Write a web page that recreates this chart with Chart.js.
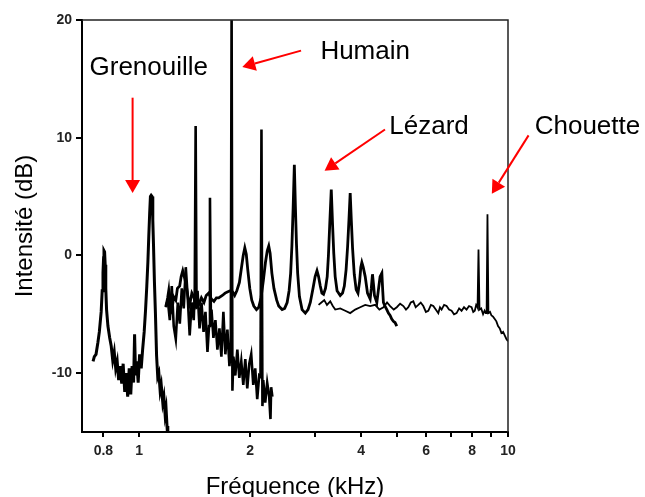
<!DOCTYPE html>
<html>
<head>
<meta charset="utf-8">
<script src="https://cdn.jsdelivr.net/npm/chart.js@4"></script>
<style>
    body { margin: 0; background: #fff; }
    #wrap { width: 645px; height: 497px; }
</style>
</head>
<body>
<div id="wrap"><canvas id="soaeChart" width="645" height="497"></canvas></div>
<script>
// Frequency in kHz, level in dB
const frogFreq = [0.750, 0.756, 0.764, 0.773, 0.780, 0.789, 0.794, 0.798, 0.801, 0.803, 0.806, 0.809, 0.812, 0.816, 0.823, 0.832,
    0.840, 0.848, 0.856, 0.864, 0.872, 0.880, 0.888, 0.897, 0.905, 0.914, 0.922, 0.931, 0.940, 0.949, 0.957, 0.966, 0.972, 0.978, 0.985, 0.994, 1.003, 1.013, 1.022, 1.032,
    1.041, 1.049, 1.056, 1.062, 1.068, 1.073, 1.078, 1.084, 1.089, 1.094, 1.100, 1.107,
    1.115, 1.123, 1.131, 1.140, 1.148, 1.159, 1.167, 1.176, 1.183, 1.190, 1.196];
const frogDb = [-9.0, -8.6, -8.4, -7.4, -6.5, -4.8, -3.0, -1.5, -0.2, 0.4, 0.3, -0.8, -2.8, -4.6, -6.0, -7.0,
    -7.7, -8.9, -8.2, -9.6, -9.0, -10.6, -9.4, -10.9, -9.2, -11.6, -10.0, -12.0, -9.6, -11.8, -9.4, -10.8, -6.7, -10.2, -9.0, -10.8, -8.4, -9.6, -8.0, -6.5,
    -4.6, -2.6, -0.6, 1.6, 3.6, 5.0, 5.1, 5.0, 3.0, 0.8, -2.2, -4.9,
    -8.5, -10.3, -10.0, -11.5, -11.0, -12.5, -12.0, -13.5, -13.0, -14.5, -15.5];

const humanFreq = [1.181, 1.196, 1.211, 1.226, 1.241, 1.257, 1.273, 1.289, 1.305, 1.321, 1.338, 1.354, 1.371, 1.388, 1.406,
    1.415, 1.423, 1.431, 1.440, 1.458, 1.476, 1.495, 1.513, 1.532,
    1.547, 1.556, 1.565, 1.571, 1.590, 1.610, 1.630, 1.651, 1.671, 1.692, 1.713, 1.735, 1.757,
    1.772, 1.781, 1.790, 1.801, 1.823, 1.846, 1.869, 1.892, 1.916, 1.940, 1.964, 1.989, 2.013, 2.039, 2.064, 2.090, 2.116,
    2.133, 2.146, 2.159, 2.170, 2.197, 2.224, 2.252, 2.270, 2.280, 2.297];
const humanDb = [-4.3, -3.8, -5.5, -2.6, -6.0, -7.1, -4.0, -5.8, -2.8, -4.5, -1.0, -3.5, -6.8, -4.0, -5.5,
    -3.0, 11.0, -4.5, -3.0, -6.2, -4.0, -6.5, -4.8, -8.2,
    -6.0, 4.9, -5.5, -4.6, -7.0, -5.5, -8.0, -6.2, -8.6, -4.8, -8.4, -6.3, -9.4,
    -8.0, 21.0, -11.5, -8.6, -10.2, -8.0, -10.4, -9.0, -11.0, -8.8, -11.3, -9.2, -8.4, -11.0, -9.6, -12.2, -10.2,
    -10.3, 10.7, -12.8, -10.6, -12.5, -10.8, -12.0, -13.9, -11.2, -12.0];

const lizardFreq = [1.181, 1.195, 1.203, 1.215, 1.226, 1.240, 1.257, 1.270, 1.288, 1.300, 1.313, 1.330, 1.346, 1.360, 1.371, 1.390, 1.406, 1.430, 1.450, 1.475, 1.499, 1.520, 1.543, 1.570, 1.595, 1.620, 1.643, 1.681, 1.710, 1.734, 1.765, 1.792, 1.815,
    1.840, 1.870, 1.895, 1.915, 1.934, 1.952, 1.970, 1.995, 2.020, 2.046, 2.080, 2.110, 2.140, 2.170, 2.200, 2.225, 2.246, 2.265, 2.290, 2.320, 2.360, 2.390, 2.441, 2.480, 2.519,
    2.550, 2.575, 2.595, 2.615, 2.635, 2.652, 2.670, 2.690, 2.720, 2.765, 2.822, 2.870, 2.911, 2.960, 3.000, 3.035, 3.065, 3.098, 3.130, 3.162,
    3.200, 3.235, 3.260, 3.285, 3.318, 3.345, 3.370, 3.400, 3.440, 3.509, 3.560, 3.600, 3.640, 3.675, 3.705, 3.734, 3.760, 3.790, 3.830, 3.876,
    3.920, 3.960, 3.990, 4.016, 4.050, 4.101, 4.160, 4.230, 4.260, 4.291, 4.320, 4.345, 4.410, 4.454, 4.500, 4.550, 4.575, 4.595, 4.640, 4.693, 4.740, 4.791, 4.840, 4.890, 4.940, 4.995];
const lizardDb = [-4.4, -3.6, -3.0, -4.6, -4.8, -3.5, -3.8, -2.8, -2.6, -1.8, -1.3, -2.0, -2.8, -3.8, -4.2, -3.2, -3.5, -4.4, -4.2, -3.6, -4.0, -3.4, -3.2, -3.7, -3.9, -3.6, -3.6, -3.4, -3.2, -3.1, -3.0, -3.1, -3.4,
    -3.0, -2.3, -1.0, 0.0, 0.65, 0.1, -1.2, -2.8, -3.8, -4.3, -4.6, -4.4, -3.6, -2.2, -0.6, 0.4, 0.8, 0.2, -1.5, -2.8, -3.8, -4.3, -4.6, -4.5, -4.0,
    -3.0, -1.5, 0.8, 4.0, 7.7, 4.2, 1.0, -1.5, -3.5, -4.6, -4.9, -4.6, -4.0, -2.8, -1.8, -1.3, -1.8, -2.6, -3.2, -3.3,
    -2.8, -1.8, 0.0, 2.5, 5.6, 2.6, 0.2, -1.8, -3.0, -3.4, -3.2, -2.6, -1.2, 0.8, 3.0, 5.3, 3.0, 0.6, -1.6, -2.9,
    -3.2, -2.2, -1.0, -0.6, -1.0, -1.8, -3.2, -3.7, -2.8, -1.6, -2.5, -3.4, -4.0, -2.9, -1.8, -1.5, -3.0, -4.0, -4.3, -4.6, -4.9, -5.1, -5.4, -5.6, -5.7, -6.0];

const owlFreq = [3.065, 3.120, 3.176, 3.230, 3.297, 3.350, 3.401, 3.509, 3.620, 3.734, 3.852, 3.974, 4.101, 4.230, 4.364, 4.480, 4.595, 4.700, 4.791, 4.900, 4.995, 5.100, 5.204, 5.290, 5.368, 5.450, 5.538, 5.620, 5.713, 5.800, 5.894, 5.990, 6.081, 6.180, 6.273, 6.370, 6.472, 6.540, 6.607, 6.710, 6.816, 6.920, 7.032, 7.140, 7.255, 7.370, 7.484, 7.600, 7.721, 7.840, 7.965, 8.050, 8.128, 8.200, 8.246, 8.270, 8.318, 8.370, 8.460, 8.559, 8.640, 8.704, 8.750, 8.797, 8.850, 8.940, 9.019, 9.110, 9.206, 9.300, 9.397, 9.500, 9.598, 9.700, 9.797, 9.900, 10.0];
const owlDb = [-4.2, -4.0, -3.8, -4.2, -3.9, -4.3, -4.6, -4.5, -4.7, -4.9, -4.6, -4.4, -4.2, -4.3, -4.2, -4.6, -4.4, -4.0, -4.3, -4.6, -4.4, -4.1, -4.3, -4.6, -4.4, -4.0, -3.9, -4.4, -4.2, -4.0, -4.3, -4.8, -4.7, -4.2, -4.3, -4.6, -4.9, -4.4, -4.6, -4.2, -4.3, -4.6, -4.7, -5.0, -4.9, -4.5, -4.7, -4.4, -4.6, -4.3, -4.4, -4.8, -4.7, -4.2, -4.3, -4.4, 0.5, -4.6, -4.5, -5.0, -4.7, -4.9, -4.9, 3.5, -4.9, -4.8, -5.1, -5.2, -5.4, -5.6, -6.0, -6.2, -6.6, -6.5, -6.8, -7.1, -7.3];

const xTicks = [0.8, 1, 2, 3, 4, 5, 6, 7, 8, 9, 10];
const xLabelled = [0.8, 1, 2, 4, 6, 8, 10];
const yTicks = [-10, 0, 10, 20];

// Species labels and their red arrows (data coordinates)
const labels = [
    { text: 'Grenouille', x: 1.062, y: 15.9, from: [0.960, 13.4], to: [0.960, 5.3] },
    { text: 'Humain',     x: 4.10,  y: 17.3, from: [2.748, 17.4], to: [1.904, 16.0] },
    { text: 'Lézard',     x: 6.107, y: 10.9, from: [4.64, 10.7],  to: [3.182, 7.2] },
    { text: 'Chouette',   x: 16.42, y: 10.9, from: [11.37, 10.2], to: [9.04, 5.25] }
];

function toPoints(xs, ys) {
    return xs.map((x, i) => ({ x: x, y: ys[i] }));
}

function series(xs, ys, width) {
    return {
        data: toPoints(xs, ys),
        showLine: true,
        borderColor: '#000',
        borderWidth: width,
        pointRadius: 0,
        tension: 0
    };
}

// Frame on top and right + annotations
const decorPlugin = {
    id: 'decor',
    afterDatasetsDraw(chart) {
        const { ctx, chartArea: a, scales } = chart;
        ctx.save();
        ctx.strokeStyle = '#222';
        ctx.lineWidth = 1.5;
        ctx.beginPath();
        ctx.moveTo(a.left, a.top);
        ctx.lineTo(a.right, a.top);
        ctx.lineTo(a.right, a.bottom);
        ctx.stroke();

        ctx.font = '26px "Liberation Sans", Arial, sans-serif';
        ctx.textAlign = 'center';
        ctx.textBaseline = 'middle';
        labels.forEach(l => {
            ctx.fillStyle = '#000';
            ctx.fillText(l.text, scales.x.getPixelForValue(l.x), scales.y.getPixelForValue(l.y));
            const x1 = scales.x.getPixelForValue(l.from[0]);
            const y1 = scales.y.getPixelForValue(l.from[1]);
            const x2 = scales.x.getPixelForValue(l.to[0]);
            const y2 = scales.y.getPixelForValue(l.to[1]);
            drawArrow(ctx, x1, y1, x2, y2);
        });
        ctx.restore();
    }
};

function drawArrow(ctx, x1, y1, x2, y2) {
    const ang = Math.atan2(y2 - y1, x2 - x1);
    const headLen = 13, headW = 7.5;
    const bx = x2 - headLen * Math.cos(ang);
    const by = y2 - headLen * Math.sin(ang);
    ctx.strokeStyle = '#f00';
    ctx.fillStyle = '#f00';
    ctx.lineWidth = 2;
    ctx.beginPath();
    ctx.moveTo(x1, y1);
    ctx.lineTo(bx, by);
    ctx.stroke();
    ctx.beginPath();
    ctx.moveTo(x2, y2);
    ctx.lineTo(bx + headW * Math.sin(ang), by - headW * Math.cos(ang));
    ctx.lineTo(bx - headW * Math.sin(ang), by + headW * Math.cos(ang));
    ctx.closePath();
    ctx.fill();
}

const tickFont = { family: '"Liberation Sans", Arial, sans-serif', size: 14, weight: 'bold' };
const titleFont = { family: '"Liberation Sans", Arial, sans-serif', size: 24 };

new Chart(document.getElementById('soaeChart'), {
    type: 'scatter',
    data: {
        datasets: [
            series(frogFreq, frogDb, 3),
            series(humanFreq, humanDb, 2.6),
            series(lizardFreq, lizardDb, 2.8),
            series(owlFreq, owlDb, 1.8)
        ]
    },
    options: {
        responsive: false,
        animation: false,
        layout: { padding: { top: 20, right: 137, left: 0, bottom: 0 } },
        plugins: { legend: { display: false }, tooltip: { enabled: false } },
        scales: {
            x: {
                type: 'logarithmic',
                min: 0.705,
                max: 10,
                afterBuildTicks: s => { s.ticks = xTicks.map(v => ({ value: v })); },
                afterFit: s => { s.height = 65; },
                ticks: {
                    autoSkip: false,
                    maxRotation: 0,
                    padding: 6,
                    color: '#222',
                    font: tickFont,
                    callback: v => xLabelled.includes(v) ? String(v) : ''
                },
                grid: { drawOnChartArea: false, drawTicks: true, tickLength: 5, color: '#000', lineWidth: 2 },
                border: { display: true, color: '#000', width: 2 },
                title: { display: true, text: 'Fréquence (kHz)', color: '#000', font: { ...titleFont, lineHeight: 0.8 }, padding: 0 }
            },
            y: {
                min: -15,
                max: 20,
                afterBuildTicks: s => { s.ticks = yTicks.map(v => ({ value: v })); },
                afterFit: s => { s.width = 82; },
                ticks: { padding: 4, color: '#222', font: tickFont, callback: v => String(v) },
                grid: { drawOnChartArea: false, drawTicks: true, tickLength: 6, color: '#000', lineWidth: 2 },
                border: { display: true, color: '#000', width: 2 },
                title: { display: true, text: 'Intensité (dB)', color: '#000', font: titleFont, padding: { top: 11, bottom: 0 } }
            }
        }
    },
    plugins: [decorPlugin]
});
</script>
</body>
</html>
